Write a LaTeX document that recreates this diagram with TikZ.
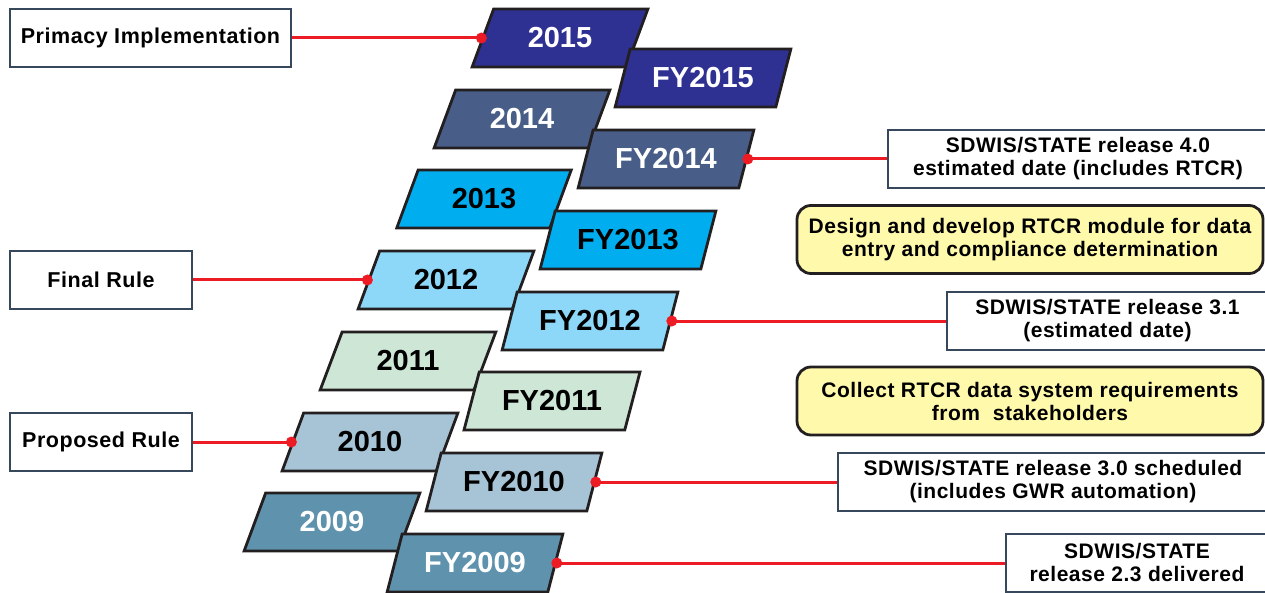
\documentclass[tikz,border=0pt]{standalone}
\usepackage{fontspec}
\setmainfont{Liberation Sans}
\newfontfamily\labelfont[LetterSpace=2.5]{Liberation Sans}
\usepackage{tikz}
\usetikzlibrary{positioning,shapes.geometric}

\definecolor{navyYear}{RGB}{46,49,146}
\definecolor{slateYear}{RGB}{72,93,135}
\definecolor{cyanYear}{RGB}{0,174,239}
\definecolor{skyYear}{RGB}{141,216,248}
\definecolor{mintYear}{RGB}{205,230,214}
\definecolor{steelYear}{RGB}{166,196,213}
\definecolor{tealYear}{RGB}{95,147,173}
\definecolor{boxEdge}{RGB}{55,72,92}
\definecolor{shapeEdge}{RGB}{35,31,32}
\definecolor{noteFill}{RGB}{255,249,172}
\definecolor{linkRed}{RGB}{237,28,36}

\begin{document}
\begin{tikzpicture}[x=1pt, y=-1pt]

    \tikzstyle{year} = [trapezium, trapezium left angle=63, trapezium right angle=117, trapezium stretches=true, minimum width=176pt, minimum height=58pt, inner sep=0pt, draw=shapeEdge, line width=2.8pt, font=\fontsize{29}{29}\selectfont\bfseries]

    \tikzstyle{box} = [rectangle, draw=boxEdge, fill=white, line width=2.8pt, align=center, inner sep=0pt, minimum height=58pt, font=\labelfont\fontsize{21}{23}\selectfont\bfseries]

    \tikzstyle{note} = [rectangle, rounded corners=14pt, draw=shapeEdge, fill=noteFill, line width=2.8pt, align=center, inner sep=0pt, minimum width=466pt, minimum height=68pt, font=\labelfont\fontsize{21}{23}\selectfont\bfseries]

    \tikzstyle{link} = [draw=linkRed, line width=3pt]

    \useasboundingbox (0,0) rectangle (1265,593);

    % calendar years
    \node [year, fill=navyYear, text=white] (y2015) at (560,38) {2015};
    \node [year, fill=slateYear, text=white] (y2014) at (522,119) {2014};
    \node [year, fill=cyanYear] (y2013) at (484,199) {2013};
    \node [year, fill=skyYear] (y2012) at (446,280) {2012};
    \node [year, fill=mintYear] (y2011) at (408,361) {2011};
    \node [year, fill=steelYear] (y2010) at (370,442) {2010};
    \node [year, fill=tealYear, text=white] (y2009) at (332,522) {2009};

    % fiscal years
    \node [year, fill=navyYear, text=white] (fy2015) at (703,78) {FY2015};
    \node [year, fill=slateYear, text=white] (fy2014) at (666,159) {FY2014};
    \node [year, fill=cyanYear] (fy2013) at (628,240) {FY2013};
    \node [year, fill=skyYear] (fy2012) at (590,321) {FY2012};
    \node [year, fill=mintYear] (fy2011) at (552,401) {FY2011};
    \node [year, fill=steelYear] (fy2010) at (514,482) {FY2010};
    \node [year, fill=tealYear, text=white] (fy2009) at (475,563) {FY2009};

    % rule milestones
    \node [box, minimum width=281pt, font=\labelfont\fontsize{21.5}{23}\selectfont\bfseries] (primacy) at (150.5,38) {Primacy Implementation};
    \node [box, minimum width=182pt, font=\labelfont\fontsize{21.5}{23}\selectfont\bfseries] (finalRule) at (101,280) {Final Rule};
    \node [box, minimum width=182pt, font=\labelfont\fontsize{21.5}{23}\selectfont\bfseries] (proposedRule) at (101,442) {Proposed Rule};

    % system releases
    \node [box, minimum width=380pt] (release40) at (1078,159) {SDWIS/STATE release 4.0\\estimated date (includes RTCR)};
    \node [box, minimum width=321pt] (release31) at (1107.5,321) {SDWIS/STATE release 3.1\\(estimated date)};
    \node [box, minimum width=430pt] (release30) at (1053,482) {SDWIS/STATE release 3.0 scheduled\\(includes GWR automation)};
    \node [box, minimum width=262pt] (release23) at (1137,563) {SDWIS/STATE\\release 2.3 delivered};

    \node [note] (designRTCR) at (1030,239.5) {Design and develop RTCR module for data\\entry and compliance determination};
    \node [note] (collectRTCR) at (1030,401) {Collect RTCR data system requirements\\from\ \ stakeholders};

    \draw [link] (primacy.east) -- (y2015.left side);
    \draw [link] (finalRule.east) -- (y2012.left side);
    \draw [link] (proposedRule.east) -- (y2010.left side);
    \draw [link] (fy2014.right side) -- (release40.west);
    \draw [link] (fy2012.right side) -- (release31.west);
    \draw [link] (fy2010.right side) -- (release30.west);
    \draw [link] (fy2009.right side) -- (release23.west);

    \fill [linkRed] (y2015.left side) circle (5.5pt);
    \fill [linkRed] (y2012.left side) circle (5.5pt);
    \fill [linkRed] (y2010.left side) circle (5.5pt);
    \fill [linkRed] (fy2014.right side) circle (5.5pt);
    \fill [linkRed] (fy2012.right side) circle (5.5pt);
    \fill [linkRed] (fy2010.right side) circle (5.5pt);
    \fill [linkRed] (fy2009.right side) circle (5.5pt);

\end{tikzpicture}
\end{document}
